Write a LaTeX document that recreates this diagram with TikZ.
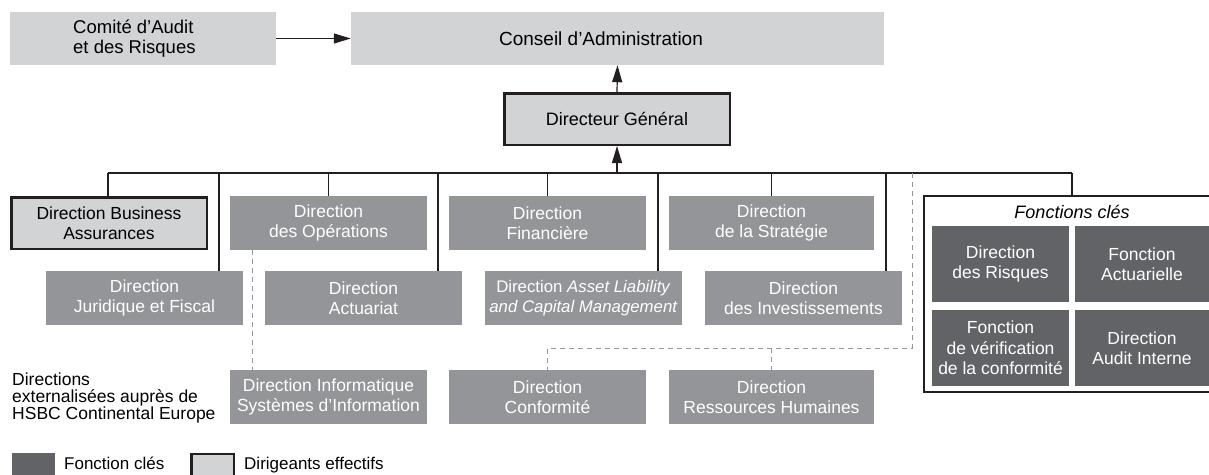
\documentclass[tikz,border=0pt]{standalone}
\usepackage{fontspec}
\setmainfont{Liberation Sans}
\usetikzlibrary{arrows.meta}
\definecolor{light}{HTML}{D1D3D4}
\definecolor{mid}{HTML}{939598}
\definecolor{dark}{HTML}{616366}
\definecolor{ink}{HTML}{231F20}
\tikzset{
  box/.style={inner sep=0pt, align=center, font=\fontsize{17.5}{20.5}\selectfont},
  lightbox/.style={box, fill=light, text=black},
  chiefbox/.style={box, fill=light, draw=ink, line width=2.5pt, text=black},
  midbox/.style={box, fill=mid, text=white},
  keybox/.style={box, fill=dark, text=white},
  plain/.style={inner sep=0pt, font=\fontsize{17.5}{20.5}\selectfont, text=black},
  conn/.style={draw=ink, line width=1.2pt},
  arr/.style={conn, -{Triangle[length=17pt,width=10pt]}},
  dashconn/.style={draw=mid, line width=1pt, dash pattern=on 5pt off 4pt},
}
\begin{document}
\begin{tikzpicture}[x=1pt,y=-1pt]
\useasboundingbox (0,0) rectangle (1209,474);

% top row
\node[lightbox, minimum width=266pt, minimum height=53pt] (cam) at (143,38.5) {};
\node[plain, anchor=west, align=left, font=\fontsize{18.5}{20.5}\selectfont] (camt) at (73,38.5) {Comité d’Audit\\et des Risques};
\node[lightbox, minimum width=533pt, minimum height=53pt] (ca) at (617.5,38.5) {};
\node[plain, font=\fontsize{19}{21}\selectfont] (cat) at (601,38.5) {Conseil d’Administration};
\node[chiefbox, minimum width=225.5pt, minimum height=51.5pt, font=\fontsize{18}{21}\selectfont] (dg) at (617,119) {Directeur Général};

% upper row of directions
\node[chiefbox, minimum width=195.5pt, minimum height=51.5pt] (bus) at (109,223) {Direction Business\\Assurances};
\node[midbox, minimum width=197pt, minimum height=54pt] (ops) at (328.5,223) {Direction\\des Opérations};
\node[midbox, minimum width=197pt, minimum height=54pt] (fin) at (547.5,223) {Direction\\Financière};
\node[midbox, minimum width=205pt, minimum height=54pt] (str) at (771.5,223) {Direction\\de la Stratégie};

% lower row of directions
\node[midbox, minimum width=197pt, minimum height=54pt] (jur) at (144.5,298) {Direction\\Juridique et Fiscal};
\node[midbox, minimum width=197pt, minimum height=54pt] (act) at (363.5,298) {Direction\\Actuariat};
\node[midbox, minimum width=197pt, minimum height=54pt, font=\fontsize{16.8}{20.5}\selectfont] (alm) at (583.5,298) {Direction \textit{Asset Liability}\\\textit{and Capital Management}};
\node[midbox, minimum width=197pt, minimum height=54pt] (inv) at (803.5,298) {Direction\\des Investissements};

% outsourced directions
\node[plain, anchor=north west, align=left, font=\fontsize{17.5}{17}\selectfont] (ext) at (12,373) {Directions\\externalisées auprès de\\HSBC Continental Europe};
\node[midbox, minimum width=197pt, minimum height=54pt] (info) at (328.5,397) {Direction Informatique\\Systèmes d’Information};
\node[midbox, minimum width=197pt, minimum height=54pt] (conf) at (547.5,397) {Direction\\Conformité};
\node[midbox, minimum width=205pt, minimum height=54pt] (rh) at (771.5,397) {Direction\\Ressources Humaines};

% key functions
\node[draw=ink, line width=1.2pt, minimum width=292pt, minimum height=196pt, inner sep=0pt] (fc) at (1070,294) {};
\node[plain, font=\fontsize{18}{20.5}\selectfont\itshape] (fct) at (1072,212) {Fonctions clés};
\node[keybox, minimum width=137pt, minimum height=76pt] (ris) at (1000.5,264) {Direction\\des Risques};
\node[keybox, minimum width=134pt, minimum height=76pt] (fa) at (1142,264) {Fonction\\Actuarielle};
\node[keybox, minimum width=137pt, minimum height=76pt] (ver) at (1000.5,348) {Fonction\\de vérification\\de la conformité};
\node[keybox, minimum width=134pt, minimum height=76pt] (aud) at (1142,348) {Direction\\Audit Interne};

% legend
\node[keybox, minimum width=43pt, minimum height=24pt] (lk) at (33.5,465) {};
\node[plain, anchor=base west, font=\fontsize{17}{20}\selectfont] (lkt) at (64,469.5) {Fonction clés};
\node[chiefbox, minimum width=42.5pt, minimum height=22pt] (ld) at (212.5,465) {};
\node[plain, anchor=base west, font=\fontsize{17}{20}\selectfont] (ldt) at (244,469.5) {Dirigeants effectifs};

% connectors
\draw[arr] (cam.east) -- (ca.west);
\draw[arr] (dg.north) -- (ca.south);
\coordinate (bg) at (617,173);
\draw[arr] (bg) -- (dg.south);
\coordinate (bl) at (108,173);
\coordinate (br) at (1072,173);
\coordinate (d2) at (219,173);
\coordinate (d4) at (438,173);
\coordinate (d6) at (658,173);
\coordinate (d8) at (886,173);
\draw[conn] (bl) -- (br);
\draw[conn] (bl) -- (bl |- bus.north);
\draw[conn] (d2) -- (d2 |- jur.north);
\draw[conn] (ops.north |- bl) -- (ops.north);
\draw[conn] (d4) -- (d4 |- act.north);
\draw[conn] (fin.north |- bl) -- (fin.north);
\draw[conn] (d6) -- (d6 |- alm.north);
\draw[conn] (str.north |- bl) -- (str.north);
\draw[conn] (d8) -- (d8 |- inv.north);
\draw[conn] (br) -- (br |- fc.north);

% dashed links to outsourced directions
\draw[dashconn] ([xshift=23pt]ops.south west) -- ([xshift=23pt]info.north west);
\coordinate (dx) at (912,173);
\coordinate (dc) at (912,348);
\draw[dashconn] (dx) -- (dc) -- (conf.north |- dc) -- (conf.north);
\draw[dashconn] (rh.north |- dc) -- (rh.north);
\end{tikzpicture}
\end{document}
